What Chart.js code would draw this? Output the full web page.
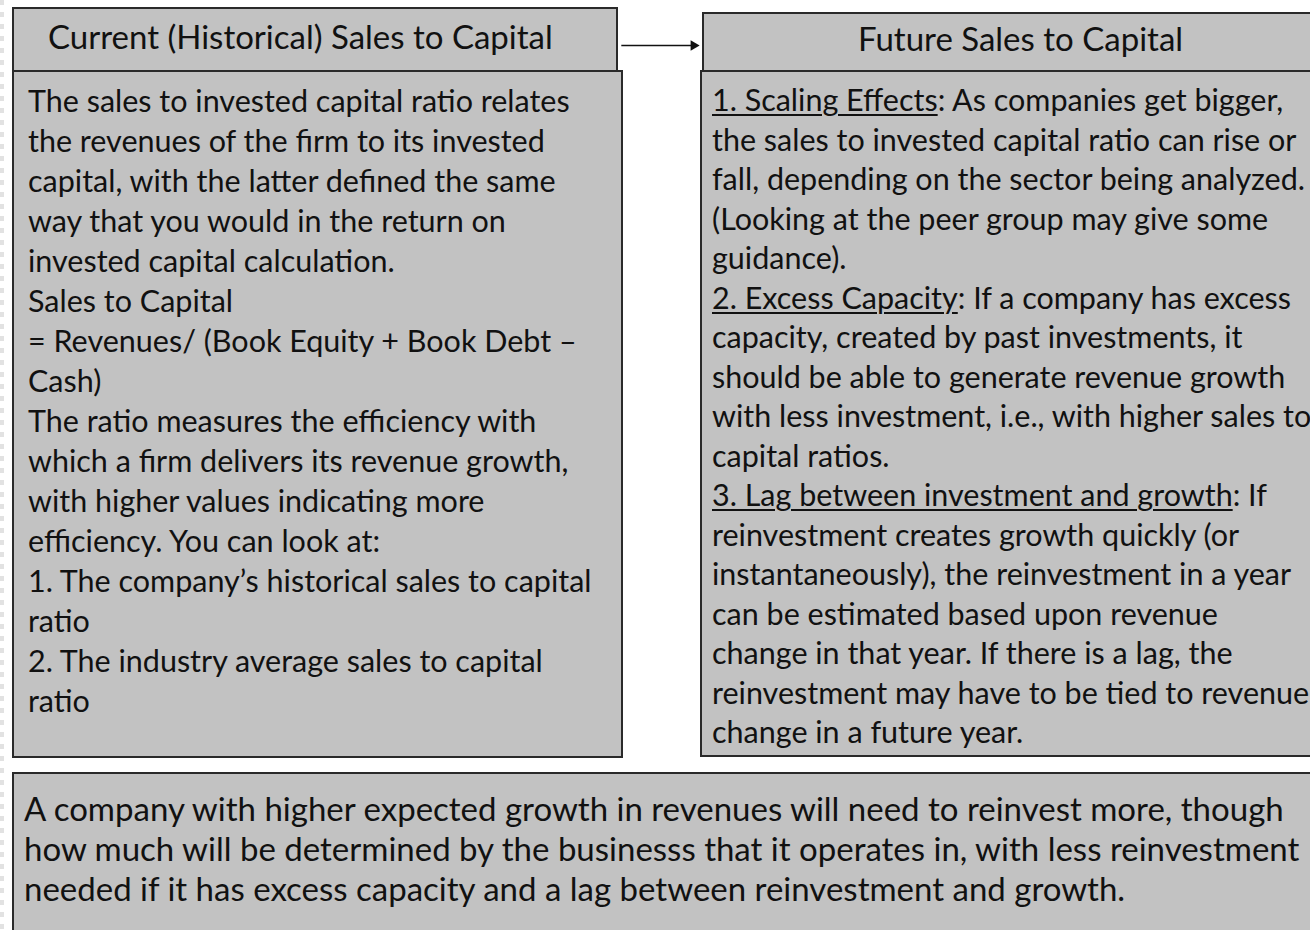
<!DOCTYPE html>
<html lang="en">
<head>
  <meta charset="UTF-8" />
  <title>Sales to Capital</title>
  <script src="https://cdn.jsdelivr.net/npm/chart.js@4.4.1/dist/chart.umd.min.js"></script>
  <style>
    html, body {
      margin: 0;
      padding: 0;
      width: 1310px;
      height: 930px;
      overflow: hidden;
      background: #fff;
    }
    .box {
      position: absolute;
      box-sizing: border-box;
      background: #c2c2c2;
      border: 2px solid #2a2a2a;
      color: #111;
      white-space: nowrap;
      overflow: hidden;
    }
    .head {
      font-family: Lato, "Open Sans", sans-serif;
      font-size: 33px;
      line-height: 34px;
    }
    .body {
      font-family: Lato, "Open Sans", sans-serif;
      font-size: 30.5px;
      line-height: 40px;
    }
    #rightBody { line-height: 39.5px; }
    .note {
      font-family: Lato, "Open Sans", sans-serif;
      font-size: 33px;
      line-height: 40px;
    }
    u { text-underline-offset: 3px; text-decoration-thickness: 2px; }
    .edge {
      position: absolute; left: 0; top: 0; width: 4px; height: 930px;
      background: repeating-linear-gradient(#e2e2e2 0 5px, transparent 5px 12px);
    }
    #chartWrap {
      position: absolute; left: 0; top: 0; width: 1310px; height: 930px;
      pointer-events: none;
    }
  </style>
</head>
<body>
  <div class="edge"></div>

  <div class="box head" id="leftHead" style="left:12px; top:7px; width:606px; height:65px; padding:10px 0 0 34px;"></div>
  <div class="box body" id="leftBody" style="left:12px; top:70px; width:611px; height:688px; padding:8px 0 0 14px;"></div>

  <div class="box head" id="rightHead" style="left:702px; top:12px; width:640px; height:60px; padding:7px 0 0 154px;"></div>
  <div class="box body" id="rightBody" style="left:700px; top:70px; width:640px; height:687px; padding:8px 0 0 10px;"></div>

  <div class="box note" id="bottomNote" style="left:12px; top:772px; width:1330px; height:180px; padding:14px 0 0 10px;"></div>

  <div id="chartWrap"><canvas id="arrowChart"></canvas></div>

<script>
// --- titres ---
const LEFT_TITLE = 'Current (Historical) Sales to Capital';
const RIGHT_TITLE = 'Future Sales to Capital';

// --- texte gauche, une ligne par entrée ---
const LEFT_LINES = [
  'The sales to invested capital ratio relates',
  'the revenues of the firm to its invested',
  'capital, with the latter defined the same',
  'way that you would in the return on',
  'invested capital calculation.',
  'Sales to Capital',
  '= Revenues/ (Book Equity + Book Debt –',
  'Cash)',
  'The ratio measures the efficiency with',
  'which a firm delivers its revenue growth,',
  'with higher values indicating more',
  'efficiency. You can look at:',
  '1. The company’s historical sales to capital',
  'ratio',
  '2. The industry average sales to capital',
  'ratio'
];

// --- texte droite : [partie soulignée, reste] ---
const RIGHT_LINES = [
  ['1. Scaling Effects', ': As companies get bigger,'],
  ['', 'the sales to invested capital ratio can rise or'],
  ['', 'fall, depending on the sector being analyzed.'],
  ['', '(Looking at the peer group may give some'],
  ['', 'guidance).'],
  ['2. Excess Capacity', ': If a company has excess'],
  ['', 'capacity, created by past investments, it'],
  ['', 'should be able to generate revenue growth'],
  ['', 'with less investment, i.e., with higher sales to'],
  ['', 'capital ratios.'],
  ['3. Lag between investment and growth', ': If'],
  ['', 'reinvestment creates growth quickly (or'],
  ['', 'instantaneously), the reinvestment in a year'],
  ['', 'can be estimated based upon revenue'],
  ['', 'change in that year. If there is a lag, the'],
  ['', 'reinvestment may have to be tied to revenue'],
  ['', 'change in a future year.']
];

const BOTTOM_LINES = [
  'A company with higher expected growth in revenues will need to reinvest more, though',
  'how much will be determined by the businesss that it operates in, with less reinvestment',
  'needed if it has excess capacity and a lag between reinvestment and growth.'
];

// flèche entre les deux titres (coordonnées de la page)
const ARROW_X = [621, 694];
const ARROW_Y = [40, 40];

function addLines(el, lines) {
  lines.forEach(l => {
    const d = document.createElement('div');
    if (Array.isArray(l)) {
      if (l[0]) {
        const u = document.createElement('u');
        u.textContent = l[0];
        d.appendChild(u);
      }
      d.appendChild(document.createTextNode(l[1]));
    } else {
      d.textContent = l;
    }
    el.appendChild(d);
  });
}

document.getElementById('leftHead').textContent = LEFT_TITLE;
document.getElementById('rightHead').textContent = RIGHT_TITLE;
addLines(document.getElementById('leftBody'), LEFT_LINES);
addLines(document.getElementById('rightBody'), RIGHT_LINES);
addLines(document.getElementById('bottomNote'), BOTTOM_LINES);

new Chart(document.getElementById('arrowChart'), {
  type: 'line',
  data: {
    datasets: [{
      data: ARROW_X.map((x, i) => ({ x, y: ARROW_Y[i] })),
      borderColor: '#111',
      backgroundColor: '#111',
      borderWidth: 1.5,
      pointStyle: 'triangle',
      pointRotation: 90,
      pointRadius: [0, 6],
      pointBorderWidth: 0
    }]
  },
  options: {
    responsive: true,
    maintainAspectRatio: false,
    animation: false,
    layout: { padding: 0 },
    plugins: { legend: { display: false }, tooltip: { enabled: false } },
    scales: {
      x: { type: 'linear', min: 0, max: 1310, display: false },
      y: { type: 'linear', min: 0, max: 930, reverse: true, display: false }
    }
  }
});
</script>
</body>
</html>
